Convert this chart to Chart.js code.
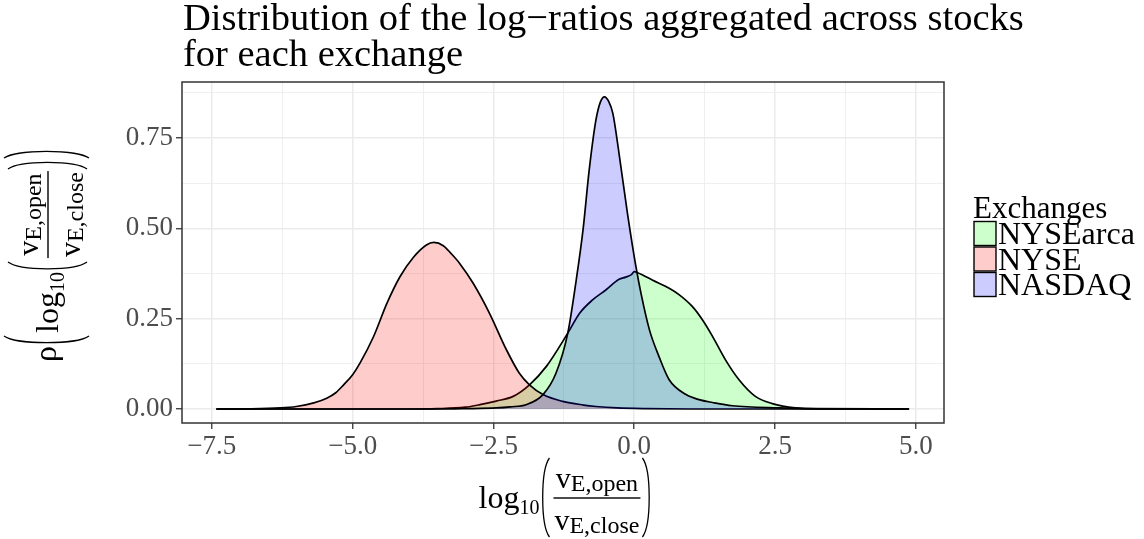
<!DOCTYPE html>
<html>
<head>
<meta charset="utf-8">
<script src="https://cdn.jsdelivr.net/npm/chart.js@4.4.1/dist/chart.umd.min.js"></script>
<style>
  body { margin: 0; background: #fff; }
  #wrap { width: 1144px; height: 539px; }
</style>
</head>
<body>
<div id="wrap"><canvas id="densityChart" width="1144" height="539"></canvas></div>
<script>
// series names and colours (legend order)
var exchanges = ['NYSEarca', 'NYSE', 'NASDAQ'];
var fills = ['rgba(0,255,0,0.2)', 'rgba(255,0,0,0.2)', 'rgba(0,0,255,0.2)'];

// density curves
var arcaX = [-7.42, -4.0, -3.5, -3.0, -2.74, -2.45, -2.15, -1.86, -1.56, -1.18, -0.97, -0.74, -0.50, -0.27, -0.15, -0.05, 0.0, 0.05, 0.15, 0.32, 0.62, 0.80, 1.03, 1.21, 1.39, 1.62, 1.86, 2.15, 2.45, 2.86, 3.3, 4.88];
var arcaY = [0, 0, 0.001, 0.005, 0.012, 0.022, 0.035, 0.067, 0.118, 0.21, 0.265, 0.302, 0.330, 0.359, 0.365, 0.372, 0.380, 0.378, 0.371, 0.357, 0.334, 0.316, 0.284, 0.247, 0.201, 0.136, 0.081, 0.035, 0.015, 0.003, 0.0005, 0];

var nyseX = [-7.42, -6.8, -6.28, -6.0, -5.69, -5.46, -5.3, -5.16, -5.0, -4.87, -4.63, -4.39, -4.16, -3.92, -3.69, -3.56, -3.39, -3.25, -3.10, -2.86, -2.57, -2.27, -2.04, -1.86, -1.62, -1.27, -0.9, -0.68, -0.3, 0.2, 1.0, 4.88];
var nyseY = [0, 0.0005, 0.003, 0.007, 0.017, 0.030, 0.045, 0.067, 0.095, 0.127, 0.20, 0.293, 0.366, 0.42, 0.454, 0.461, 0.452, 0.43, 0.403, 0.348, 0.265, 0.164, 0.099, 0.067, 0.040, 0.021, 0.011, 0.007, 0.003, 0.001, 0, 0];

var nasdaqX = [-7.42, -3.5, -3.0, -2.45, -2.2, -1.92, -1.62, -1.39, -1.18, -1.03, -0.91, -0.80, -0.68, -0.60, -0.53, -0.45, -0.38, -0.27, -0.12, 0.03, 0.12, 0.27, 0.44, 0.62, 0.92, 1.15, 1.39, 1.74, 2.57, 3.2, 4.88];
var nasdaqY = [0, 0, 0.001, 0.003, 0.006, 0.012, 0.040, 0.099, 0.21, 0.357, 0.495, 0.661, 0.80, 0.85, 0.864, 0.85, 0.818, 0.707, 0.541, 0.394, 0.32, 0.219, 0.145, 0.081, 0.040, 0.026, 0.018, 0.009, 0.003, 0.001, 0];

// ticks (major ones get labels, the rest are minor grid lines)
var xTicks = [-7.5, -6.25, -5.0, -3.75, -2.5, -1.25, 0.0, 1.25, 2.5, 3.75, 5.0];
var xMajor = [-7.5, -5.0, -2.5, 0.0, 2.5, 5.0];
var xLabels = ['\u22127.5', '\u22125.0', '\u22122.5', '0.0', '2.5', '5.0'];
var yTicks = [0, 0.125, 0.25, 0.375, 0.5, 0.625, 0.75, 0.875];
var yMajor = [0, 0.25, 0.5, 0.75];
var yLabels = ['0.00', '0.25', '0.50', '0.75'];

var titleLines = ['Distribution of the log\u2212ratios aggregated across stocks', 'for each exchange'];
var legendTitle = 'Exchanges';

var serif = '"Liberation Serif", "DejaVu Serif", serif';

function toPoints(xs, ys) {
  return xs.map(function(x, i) { return { x: x, y: ys[i] }; });
}

function isMajor(list, v) {
  return list.some(function(m) { return Math.abs(m - v) < 1e-9; });
}

function majorLabel(list, labels, v) {
  for (var i = 0; i < list.length; i++) {
    if (Math.abs(list[i] - v) < 1e-9) return labels[i];
  }
  return '';
}

function gridOpts(majors) {
  return {
    color: '#ebebeb',
    lineWidth: function(c) { return c.tick && isMajor(majors, c.tick.value) ? 1.5 : 0.8; },
    tickColor: function(c) { return c.tick && isMajor(majors, c.tick.value) ? '#333333' : 'rgba(0,0,0,0)'; },
    tickWidth: 1.3,
    tickLength: 6,
    drawTicks: true
  };
}

// draws parenthesis as a curve, from yTop to yBot, bulging left (dir=-1) or right (dir=1)
function paren(ctx, x, yTop, yBot, dir) {
  ctx.beginPath();
  ctx.moveTo(x, yTop);
  ctx.bezierCurveTo(x + dir * 9, yTop + 12, x + dir * 9, yBot - 12, x, yBot);
  ctx.lineWidth = 1.3;
  ctx.strokeStyle = '#000';
  ctx.stroke();
}

// log10( v_E,open / v_E,close ), barY = height of the fraction bar
function drawRatio(ctx, x, barY, draw) {
  var cx = x;
  ctx.font = '32px ' + serif;
  var wLog = ctx.measureText('log').width;
  if (draw) ctx.fillText('log', cx, barY + 10);
  cx += wLog;
  ctx.font = '20px ' + serif;
  var w10 = ctx.measureText('10').width;
  if (draw) ctx.fillText('10', cx, barY + 16);
  cx += w10 + 2;
  if (draw) paren(ctx, cx + 8, barY - 40, barY + 39, -1);
  cx += 12;
  ctx.font = '30px ' + serif;
  var wv = ctx.measureText('v').width;
  ctx.font = '24px ' + serif;
  var wTop = wv + ctx.measureText('E,open').width;
  var wBot = wv + ctx.measureText('E,close').width;
  var fw = Math.max(wTop, wBot) + 2;
  if (draw) {
    ctx.fillRect(cx, barY - 0.7, fw, 1.4);
    var nx = cx + (fw - wTop) / 2;
    ctx.font = '30px ' + serif;
    ctx.fillText('v', nx, barY - 10);
    ctx.font = '24px ' + serif;
    ctx.fillText('E,open', nx + wv, barY - 7);
    var dx = cx + (fw - wBot) / 2;
    ctx.font = '30px ' + serif;
    ctx.fillText('v', dx, barY + 32);
    ctx.font = '24px ' + serif;
    ctx.fillText('E,close', dx + wv, barY + 35);
  }
  cx += fw + 2;
  if (draw) paren(ctx, cx, barY - 40, barY + 39, 1);
  cx += 9;
  return cx - x;
}

var decor = {
  id: 'decor',
  afterDraw: function(chart) {
    var ctx = chart.ctx;
    var a = chart.chartArea;
    ctx.save();

    // panel border
    ctx.strokeStyle = '#333333';
    ctx.lineWidth = 1.5;
    ctx.strokeRect(a.left, a.top, a.right - a.left, a.bottom - a.top);

    ctx.fillStyle = '#000';
    ctx.textAlign = 'left';
    ctx.textBaseline = 'alphabetic';

    // title
    ctx.font = '38.5px ' + serif;
    ctx.fillText(titleLines[0], a.left + 1, 30);
    ctx.fillText(titleLines[1], a.left + 1, 66);

    // legend
    ctx.font = '31px ' + serif;
    ctx.fillText(legendTitle, 973, 218);
    ctx.font = '32px ' + serif;
    exchanges.forEach(function(name, i) {
      var y0 = 221 + i * 25.5;
      ctx.fillStyle = '#fff';
      ctx.fillRect(974, y0 + 0.5, 22, 24);
      ctx.fillStyle = fills[i];
      ctx.fillRect(974, y0 + 0.5, 22, 24);
      ctx.strokeStyle = '#000';
      ctx.lineWidth = 1.4;
      ctx.strokeRect(974, y0 + 0.5, 22, 24);
      ctx.fillStyle = '#000';
      ctx.fillText(name, 998, y0 + 23.3);
    });

    // x axis title
    var w = drawRatio(ctx, 0, 0, false);
    var xc = (a.left + a.right) / 2;
    drawRatio(ctx, xc - w / 2 + 2, 498, true);

    // y axis title (rotated)
    ctx.save();
    ctx.translate(48, (a.top + a.bottom) / 2 + 3);
    ctx.rotate(-Math.PI / 2);
    ctx.font = '32px ' + serif;
    var wRho = ctx.measureText('\u03c1').width;
    var total = wRho + 12 + w + 12;
    var sx = -total / 2;
    ctx.fillText('\u03c1', sx, 8);
    sx += wRho + 1;
    paren(ctx, sx + 9, -44, 41, -1);
    sx += 12;
    drawRatio(ctx, sx, 0, true);
    sx += w + 2;
    paren(ctx, sx, -44, 41, 1);
    ctx.restore();

    ctx.restore();
  }
};

var datasets = [
  { label: exchanges[0], data: toPoints(arcaX, arcaY), backgroundColor: fills[0], order: 3 },
  { label: exchanges[1], data: toPoints(nyseX, nyseY), backgroundColor: fills[1], order: 2 },
  { label: exchanges[2], data: toPoints(nasdaqX, nasdaqY), backgroundColor: fills[2], order: 1 }
].map(function(d) {
  d.fill = 'origin';
  d.borderColor = '#000';
  d.borderWidth = 1.7;
  d.pointRadius = 0;
  d.cubicInterpolationMode = 'monotone';
  return d;
});

var ctx = document.getElementById('densityChart').getContext('2d');
var densityChart = new Chart(ctx, {
  type: 'line',
  data: { datasets: datasets },
  plugins: [decor],
  options: {
    responsive: false,
    animation: false,
    layout: { padding: { top: 82, right: 200, left: 0, bottom: 0 } },
    plugins: {
      legend: { display: false },
      title: { display: false },
      tooltip: { enabled: false }
    },
    scales: {
      x: {
        type: 'linear',
        min: -8.03,
        max: 5.5,
        afterBuildTicks: function(s) { s.ticks = xTicks.map(function(v) { return { value: v }; }); },
        afterFit: function(s) { s.height = 116; },
        grid: gridOpts(xMajor),
        border: { display: false },
        ticks: {
          autoSkip: false,
          maxRotation: 0,
          padding: 2,
          color: '#4d4d4d',
          font: { family: serif, size: 27 },
          callback: function(v) { return majorLabel(xMajor, xLabels, v); }
        }
      },
      y: {
        type: 'linear',
        min: -0.0387,
        max: 0.905,
        afterBuildTicks: function(s) { s.ticks = yTicks.map(function(v) { return { value: v }; }); },
        afterFit: function(s) { s.width = 182; },
        grid: gridOpts(yMajor),
        border: { display: false },
        ticks: {
          autoSkip: false,
          padding: 3,
          color: '#4d4d4d',
          font: { family: serif, size: 27 },
          callback: function(v) { return majorLabel(yMajor, yLabels, v); }
        }
      }
    }
  }
});
</script>
</body>
</html>
